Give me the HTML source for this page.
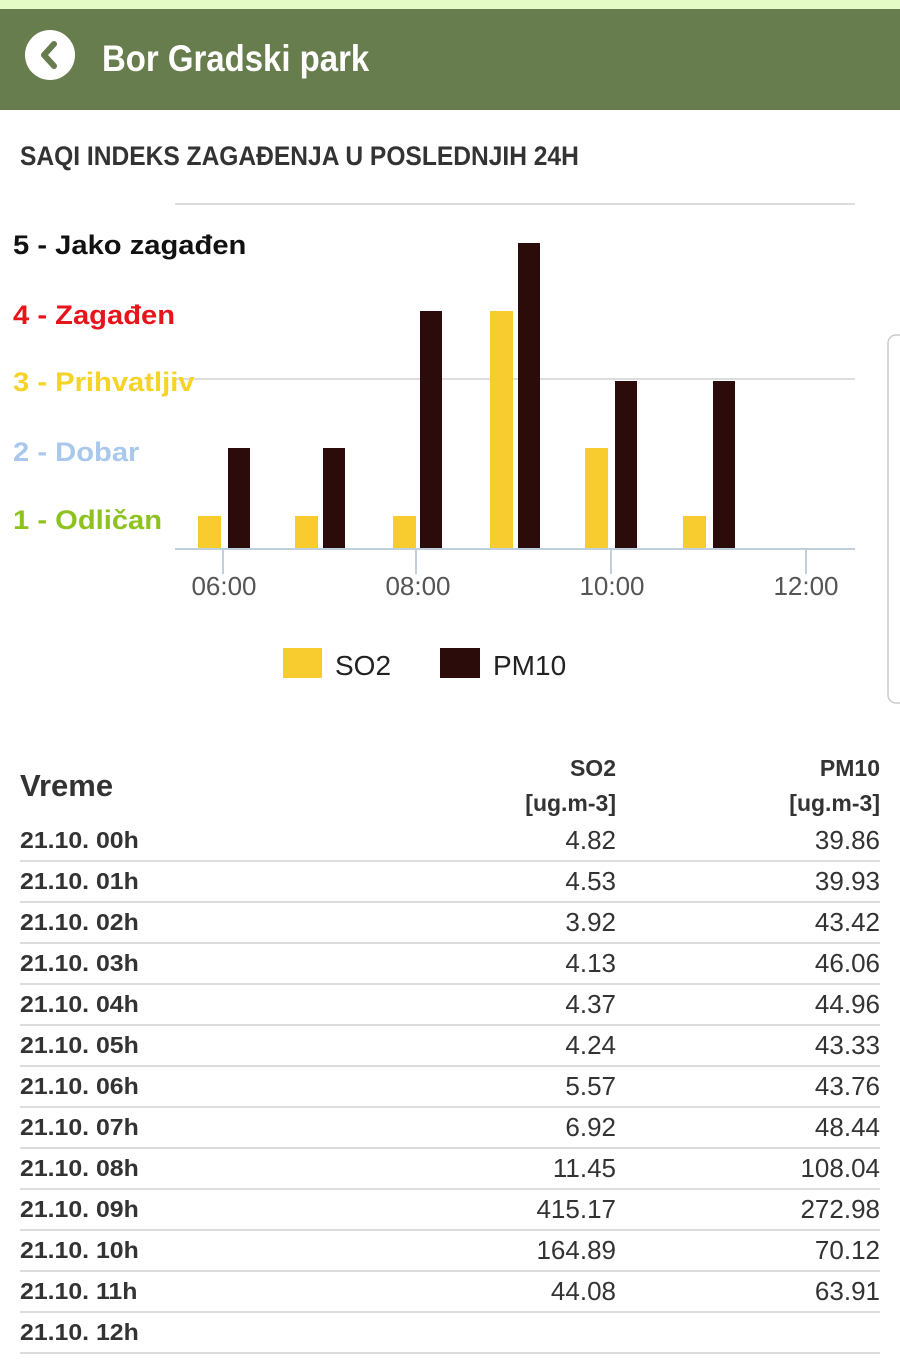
<!DOCTYPE html>
<html><head><meta charset="utf-8"><style>
*{margin:0;padding:0;box-sizing:border-box}
body{width:900px;height:1364px;background:#fff;position:relative;overflow:hidden;font-family:"Liberation Sans",sans-serif;color:#333}
.a{position:absolute;white-space:nowrap}
.n{font-family:"Liberation Sans Narrow","Liberation Sans",sans-serif}
.lv{position:absolute;left:13px;font-weight:bold;font-size:27px;line-height:30px;white-space:nowrap;transform:scaleX(1.08);transform-origin:left}
.row{position:absolute;left:20px;width:860px;height:41px;border-bottom:2px solid #ddd}
.row .d{position:absolute;left:0;top:6px;font-weight:bold;font-size:23px;color:#333;transform:scaleX(1.08);transform-origin:left;white-space:nowrap}
.row .s{position:absolute;right:264px;top:4px;font-size:26px;color:#333}
.row .p{position:absolute;right:0;top:4px;font-size:26px;color:#333}
</style></head><body>
<div class="a" style="left:0;top:0;width:900px;height:9px;background:#e5fbc6"></div>
<div class="a" style="left:0;top:9px;width:900px;height:101px;background:#677d4d"></div>
<div class="a" style="left:25px;top:30px;width:50px;height:50px;border-radius:50%;background:#fff"></div>
<svg class="a" style="left:25px;top:30px" width="50" height="50"><polyline points="29,14 19,25 29,36" fill="none" stroke="#677d4d" stroke-width="6" stroke-linecap="round" stroke-linejoin="round"/></svg>
<div class="a n" style="left:102px;top:38px;font-size:37px;font-weight:bold;color:#fff;transform:scaleX(.89);transform-origin:left">Bor Gradski park</div>
<div class="a n" style="left:20px;top:141px;font-size:27px;font-weight:bold;color:#333;transform:scaleX(.91);transform-origin:left">SAQI INDEKS ZAGAĐENJA U POSLEDNJIH 24H</div>

<svg class="a" style="left:0;top:0" width="900" height="720">
<line x1="175" y1="204" x2="855" y2="204" stroke="#ddd" stroke-width="2"/>
<line x1="175" y1="379" x2="855" y2="379" stroke="#ddd" stroke-width="2"/>
<g fill="#f8cc2e">
<rect x="198" y="516" width="23" height="32"/><rect x="295" y="516" width="23" height="32"/><rect x="393" y="516" width="23" height="32"/>
<rect x="490" y="311" width="23" height="237"/><rect x="585" y="448" width="23" height="100"/><rect x="683" y="516" width="23" height="32"/>
</g>
<g fill="#2c0b0b">
<rect x="228" y="448" width="22" height="100"/><rect x="323" y="448" width="22" height="100"/><rect x="420" y="311" width="22" height="237"/>
<rect x="518" y="243" width="22" height="305"/><rect x="615" y="381" width="22" height="167"/><rect x="713" y="381" width="22" height="167"/>
</g>
<line x1="175" y1="549" x2="855" y2="549" stroke="#c0cfdd" stroke-width="2"/>
<g stroke="#c0cfdd" stroke-width="2"><line x1="223" y1="549" x2="223" y2="574"/><line x1="416" y1="549" x2="416" y2="574"/><line x1="611" y1="549" x2="611" y2="574"/><line x1="806" y1="549" x2="806" y2="574"/></g>
<g font-family="Liberation Sans,sans-serif" font-size="26" fill="#555" text-anchor="middle">
<text x="224" y="595">06:00</text><text x="418" y="595">08:00</text><text x="612" y="595">10:00</text><text x="806" y="595">12:00</text>
</g>
<rect x="283" y="648" width="39" height="30" fill="#f8cc2e"/><rect x="440" y="648" width="40" height="30" fill="#2c0b0b"/>
<g font-family="Liberation Sans,sans-serif" font-size="28" fill="#222"><text x="335" y="675">SO2</text><text x="493" y="675">PM10</text></g>
<rect x="888" y="335" width="20" height="368" rx="8" fill="#fff" stroke="#ccc" stroke-width="1.5"/>
</svg>
<div class="lv" style="top:230px;color:#111">5 - Jako zagađen</div>
<div class="lv" style="top:300px;color:#e8141b">4 - Zagađen</div>
<div class="lv" style="top:367px;color:#f5d327">3 - Prihvatljiv</div>
<div class="lv" style="top:437px;color:#a9c8ec">2 - Dobar</div>
<div class="lv" style="top:505px;color:#8dc21f">1 - Odličan</div>

<div class="a" style="left:20px;top:768px;font-size:31px;font-weight:bold;color:#333">Vreme</div>
<div class="a" style="right:284px;top:751px;font-size:23px;font-weight:bold;text-align:right;line-height:35px;color:#333">SO2<br>[ug.m-3]</div>
<div class="a" style="right:20px;top:751px;font-size:23px;font-weight:bold;text-align:right;line-height:35px;color:#333">PM10<br>[ug.m-3]</div>

<div class="row" style="top:821px"><span class="d">21.10. 00h</span><span class="s">4.82</span><span class="p">39.86</span></div>
<div class="row" style="top:862px"><span class="d">21.10. 01h</span><span class="s">4.53</span><span class="p">39.93</span></div>
<div class="row" style="top:903px"><span class="d">21.10. 02h</span><span class="s">3.92</span><span class="p">43.42</span></div>
<div class="row" style="top:944px"><span class="d">21.10. 03h</span><span class="s">4.13</span><span class="p">46.06</span></div>
<div class="row" style="top:985px"><span class="d">21.10. 04h</span><span class="s">4.37</span><span class="p">44.96</span></div>
<div class="row" style="top:1026px"><span class="d">21.10. 05h</span><span class="s">4.24</span><span class="p">43.33</span></div>
<div class="row" style="top:1067px"><span class="d">21.10. 06h</span><span class="s">5.57</span><span class="p">43.76</span></div>
<div class="row" style="top:1108px"><span class="d">21.10. 07h</span><span class="s">6.92</span><span class="p">48.44</span></div>
<div class="row" style="top:1149px"><span class="d">21.10. 08h</span><span class="s">11.45</span><span class="p">108.04</span></div>
<div class="row" style="top:1190px"><span class="d">21.10. 09h</span><span class="s">415.17</span><span class="p">272.98</span></div>
<div class="row" style="top:1231px"><span class="d">21.10. 10h</span><span class="s">164.89</span><span class="p">70.12</span></div>
<div class="row" style="top:1272px"><span class="d">21.10. 11h</span><span class="s">44.08</span><span class="p">63.91</span></div>
<div class="row" style="top:1313px"><span class="d">21.10. 12h</span><span class="s"></span><span class="p"></span></div>
</body></html>
